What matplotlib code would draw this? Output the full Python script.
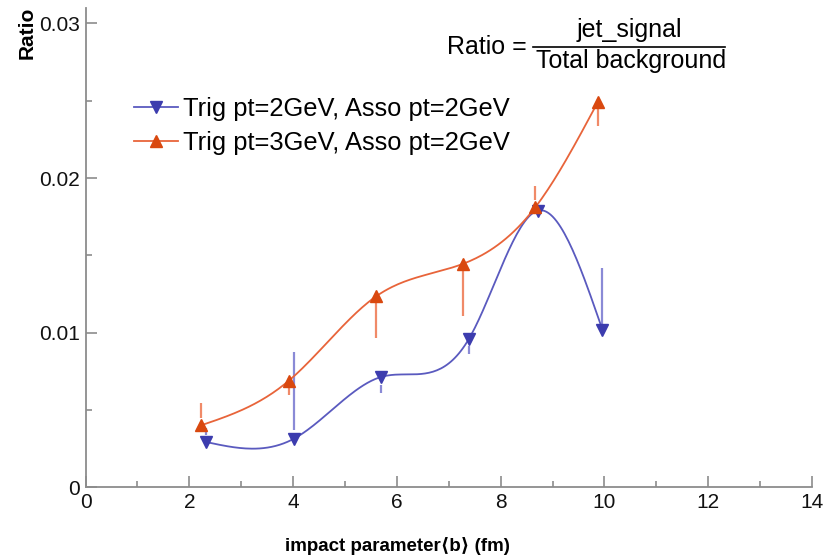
import numpy as np
import matplotlib
matplotlib.use("Agg")
import matplotlib.pyplot as plt
from matplotlib.ticker import MultipleLocator, FixedFormatter, FixedLocator

plt.rcParams['font.family'] = ['Liberation Sans', 'DejaVu Sans']

# DATA ------------------------------------------------------------------------
b_trig2 = [2.32, 4.02, 5.69, 7.39, 8.72, 9.96]
ratio_trig2 = [0.00293, 0.00315, 0.00713, 0.00961, 0.0179, 0.0102]
err_lo_trig2 = [0.00339, 0.00371, 0.00610, 0.00862, 0.0179, 0.01049]
err_hi_trig2 = [0.00385, 0.00875, 0.00662, 0.00912, 0.0179, 0.01418]

b_trig3 = [2.22, 3.92, 5.60, 7.28, 8.67, 9.87]
ratio_trig3 = [0.0040, 0.0069, 0.01235, 0.01446, 0.01812, 0.0249]
err_lo_trig3 = [0.00448, 0.00597, 0.00966, 0.01107, 0.01857, 0.02340]
err_hi_trig3 = [0.00545, 0.00649, 0.01192, 0.01405, 0.01948, 0.02450]

label_trig2 = "Trig pt=2GeV, Asso pt=2GeV"
label_trig3 = "Trig pt=3GeV, Asso pt=2GeV"

blue = '#3c3cae'
blue_line = '#5a5abf'
blue_err = '#8a8ad6'
red = '#d9480f'
red_line = '#e8643a'
red_err = '#f08a68'


def smooth(x, y, n=200):
    # natural cubic spline, only used to draw the curve through the points
    x = np.asarray(x, float)
    y = np.asarray(y, float)
    k = len(x)
    h = np.diff(x)
    A = np.zeros((k, k))
    r = np.zeros(k)
    A[0, 0] = A[-1, -1] = 1
    for i in range(1, k - 1):
        A[i, i - 1] = h[i - 1]
        A[i, i] = 2 * (h[i - 1] + h[i])
        A[i, i + 1] = h[i]
        r[i] = 6 * ((y[i + 1] - y[i]) / h[i] - (y[i] - y[i - 1]) / h[i - 1])
    M = np.linalg.solve(A, r)
    xs = np.linspace(x[0], x[-1], n)
    idx = np.clip(np.searchsorted(x, xs) - 1, 0, k - 2)
    x0, x1 = x[idx], x[idx + 1]
    hh = x1 - x0
    a = (x1 - xs) / hh
    bb = (xs - x0) / hh
    ys = (a * y[idx] + bb * y[idx + 1]
          + ((a ** 3 - a) * M[idx] + (bb ** 3 - bb) * M[idx + 1]) * hh ** 2 / 6)
    return xs, ys


fig = plt.figure(figsize=(8.36, 5.56), dpi=100)
ax = fig.add_axes([0.1023, 0.1236, 0.8690, 0.862])

# error bars
ax.vlines(b_trig2, err_lo_trig2, err_hi_trig2, color=blue_err, lw=1.6, zorder=2)
ax.vlines(b_trig3, err_lo_trig3, err_hi_trig3, color=red_err, lw=1.6, zorder=2)

# smooth curves
xs, ys = smooth(b_trig2, ratio_trig2)
ax.plot(xs, ys, color=blue_line, lw=1.3, zorder=3)
xs, ys = smooth(b_trig3, ratio_trig3)
ax.plot(xs, ys, color=red_line, lw=1.3, zorder=3)

# markers
ax.plot(b_trig2, ratio_trig2, 'v', color=blue, ms=9, zorder=4)
ax.plot(b_trig3, ratio_trig3, '^', color=red, ms=9, zorder=4)

# legend entries
h2, = ax.plot([], [], color=blue_line, lw=1.3, marker='v', ms=9, mfc=blue, mec=blue)
h3, = ax.plot([], [], color=red_line, lw=1.3, marker='^', ms=9, mfc=red, mec=red)
ax.legend([h2, h3], [label_trig2, label_trig3], loc='upper left',
          bbox_to_anchor=(0.067, 0.814), frameon=False, fontsize=18.4,
          handlelength=1.7, handletextpad=0.2, labelspacing=0.38,
          borderaxespad=0, borderpad=0)

ax.set_xlim(0, 14)
ax.set_ylim(0, 0.031)
ax.xaxis.set_major_locator(MultipleLocator(2))
ax.xaxis.set_minor_locator(MultipleLocator(1))
ax.yaxis.set_major_locator(FixedLocator([0, 0.01, 0.02, 0.03]))
ax.yaxis.set_major_formatter(FixedFormatter(['0', '0.01', '0.02', '0.03']))
ax.yaxis.set_minor_locator(MultipleLocator(0.005))

for s in ['top', 'right']:
    ax.spines[s].set_visible(False)
for s in ['left', 'bottom']:
    ax.spines[s].set_color('#8c8c8c')
    ax.spines[s].set_linewidth(1.3)
ax.tick_params(which='both', direction='in', color='#8c8c8c', width=1.2,
               labelsize=15, labelcolor='#111111')
ax.tick_params(which='major', length=8, pad=4)
ax.tick_params(which='minor', length=4)

ax.set_xlabel('impact parameter\u27e8b\u27e9 (fm)', fontsize=13.5, fontweight='bold')
ax.xaxis.set_label_coords(0.429, -0.104)
ax.set_ylabel('Ratio', fontsize=15, fontweight='bold')
ax.yaxis.set_label_coords(-0.0668, 0.948)

# formula
fig.text(447 / 836, 1 - 47 / 556, 'Ratio =', fontsize=18, va='center', ha='left')
fig.text(629 / 836, 1 - 30 / 556, 'jet_signal', fontsize=18, va='center', ha='center')
fig.text(631 / 836, 1 - 61 / 556, 'Total background', fontsize=18, va='center', ha='center')
fig.add_artist(plt.Line2D([533 / 836, 725 / 836], [1 - 47 / 556, 1 - 47 / 556],
                          color='black', lw=1.2))

fig.savefig('out.png', dpi=100)
